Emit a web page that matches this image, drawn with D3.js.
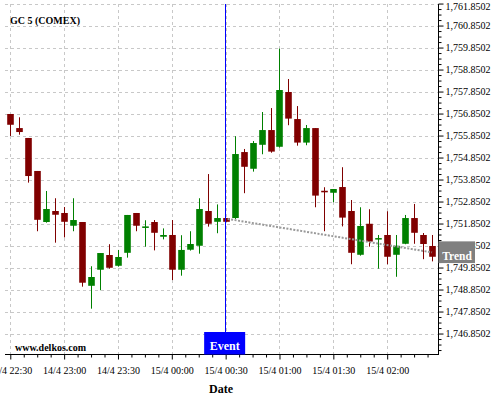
<!DOCTYPE html>
<html><head><meta charset="utf-8">
<script src="https://cdn.jsdelivr.net/npm/d3@7/dist/d3.min.js"></script>
<style>
body{margin:0;background:#fff}
svg{display:block}
text{font-family:"Liberation Serif","Times New Roman",serif}
</style>
</head><body><svg id="c" width="500" height="400"></svg>
<script>
const times = [
"2025-04-14 22:30","2025-04-14 22:35","2025-04-14 22:40","2025-04-14 22:45","2025-04-14 22:50","2025-04-14 22:55",
"2025-04-14 23:00","2025-04-14 23:05","2025-04-14 23:10","2025-04-14 23:15","2025-04-14 23:20","2025-04-14 23:25",
"2025-04-14 23:30","2025-04-14 23:35","2025-04-14 23:40","2025-04-14 23:45","2025-04-14 23:50","2025-04-14 23:55",
"2025-04-15 00:00","2025-04-15 00:05","2025-04-15 00:10","2025-04-15 00:15","2025-04-15 00:20","2025-04-15 00:25",
"2025-04-15 00:30","2025-04-15 00:35","2025-04-15 00:40","2025-04-15 00:45","2025-04-15 00:50","2025-04-15 00:55",
"2025-04-15 01:00","2025-04-15 01:05","2025-04-15 01:10","2025-04-15 01:15","2025-04-15 01:20","2025-04-15 01:25",
"2025-04-15 01:30","2025-04-15 01:35","2025-04-15 01:40","2025-04-15 01:45","2025-04-15 01:50","2025-04-15 01:55",
"2025-04-15 02:00","2025-04-15 02:05","2025-04-15 02:10","2025-04-15 02:15","2025-04-15 02:20","2025-04-15 02:25"];
const open = [1756.83,1756.19,1755.74,1754.24,1751.92,1752.42,1752.33,1751.75,1751.92,1749.02,1749.75,1750.42,
1749.93,1750.52,1752.33,1751.65,1751.92,1751.25,1751.33,1749.75,1750.66,1750.84,1752.42,1751.93,
1752.10,1752.10,1755.10,1754.34,1755.43,1756.10,1755.34,1757.83,1756.60,1755.53,1756.19,1753.34,
1753.25,1753.51,1752.42,1750.43,1751.84,1751.15,1751.33,1750.43,1750.93,1752.10,1751.33,1750.83];
const high = [1756.83,1756.68,1755.74,1754.24,1753.33,1753.00,1752.60,1753.00,1751.92,1749.91,1750.51,1750.91,
1750.65,1752.24,1752.33,1752.00,1752.01,1751.63,1752.01,1751.32,1751.50,1753.00,1754.10,1752.72,
1752.10,1755.82,1755.24,1755.60,1756.92,1757.10,1759.80,1758.42,1757.19,1756.33,1756.19,1753.50,
1753.42,1754.41,1752.92,1752.59,1752.50,1751.33,1752.41,1751.33,1752.24,1752.74,1751.42,1751.33];
const low = [1755.83,1755.89,1753.71,1751.50,1751.89,1750.98,1751.22,1751.50,1748.98,1747.98,1748.82,1749.80,
1749.89,1750.30,1751.50,1750.80,1750.63,1751.13,1749.28,1749.48,1750.62,1750.48,1751.71,1751.41,
1751.93,1752.06,1753.23,1754.21,1755.00,1755.07,1755.30,1756.32,1755.39,1755.41,1752.59,1751.50,
1752.82,1751.72,1750.00,1750.39,1750.80,1749.80,1750.00,1749.43,1750.91,1750.93,1750.23,1750.13];
const close = [1756.34,1756.01,1754.01,1752.02,1752.51,1752.25,1751.93,1752.01,1749.16,1749.42,1750.51,1749.84,
1750.33,1752.24,1751.75,1751.72,1751.43,1751.33,1749.75,1750.65,1750.92,1752.51,1751.84,1752.10,
1751.93,1755.01,1754.43,1755.51,1756.10,1755.12,1757.92,1756.62,1755.53,1756.19,1753.12,1753.27,
1753.42,1752.12,1750.52,1751.74,1751.03,1751.19,1750.34,1750.84,1752.10,1751.43,1750.92,1750.34];

const yTicks = [1746.8502,1747.8502,1748.8502,1749.8502,1750.8502,1751.8502,1752.8502,1753.8502,
1754.8502,1755.8502,1756.8502,1757.8502,1758.8502,1759.8502,1760.8502,1761.8502];
const xTicks = ["2025-04-14 22:30","2025-04-14 23:00","2025-04-14 23:30","2025-04-15 00:00",
"2025-04-15 00:30","2025-04-15 01:00","2025-04-15 01:30","2025-04-15 02:00"];
const titleText = "GC 5 (COMEX)";
const sourceText = "www.delkos.com";
const xTitle = "Date";
const eventTime = "2025-04-15 00:30";
const eventLabel = "Event";
const trendTimes = ["2025-04-15 00:30","2025-04-15 02:25"];
const trendValues = [1752.06, 1750.54];
const trendLabel = "Trend";

const parse = d3.timeParse("%Y-%m-%d %H:%M");
const parseS = d3.timeParse("%Y-%m-%d %H:%M:%S");
const svg = d3.select("#c");
const W = 438.5, TOP = 4, BOT = 354.5;

const x = d3.scaleTime()
  .domain([parseS("2025-04-14 22:24:16"), parseS("2025-04-15 02:28:36")])
  .range([0, W]);
const y = d3.scaleLinear().domain([1745.92, 1761.83]).range([354, 4]);

const data = times.map((t,i)=>({t:parse(t),o:open[i],h:high[i],l:low[i],c:close[i]}));
const xt = xTicks.map(parse);

// grid
const grid = svg.append("g").attr("stroke","#c8c8c8").attr("stroke-dasharray","3,3").attr("stroke-width",1);
grid.selectAll(".hg").data(yTicks).enter().append("line")
  .attr("x1",5).attr("x2",W).attr("y1",d=>Math.round(y(d))+0.5).attr("y2",d=>Math.round(y(d))+0.5);
grid.selectAll(".vg").data(xt).enter().append("line")
  .attr("x1",d=>Math.round(x(d))+0.5).attr("x2",d=>Math.round(x(d))+0.5).attr("y1",TOP).attr("y2",BOT);

// candles
const red = "#800000", green = "#008000";
const cg = svg.append("g");
const cs = cg.selectAll("g").data(data).enter().append("g");
cs.append("line")
  .attr("x1",d=>Math.round(x(d.t))+0.5).attr("x2",d=>Math.round(x(d.t))+0.5)
  .attr("y1",d=>y(d.h)).attr("y2",d=>y(d.l))
  .attr("stroke",d=>d.c>=d.o?green:red).attr("stroke-width",1);
cs.append("rect")
  .attr("x",d=>Math.round(x(d.t))+0.5-3.3).attr("width",6.6)
  .attr("y",d=>y(Math.max(d.o,d.c)))
  .attr("height",d=>Math.max(1.5, Math.abs(y(d.o)-y(d.c))))
  .attr("fill",d=>d.c>=d.o?green:red);

// trend line
svg.append("line")
  .attr("x1",x(parse(trendTimes[0]))+2).attr("y1",y(trendValues[0]))
  .attr("x2",x(parse(trendTimes[1]))).attr("y2",y(trendValues[1]))
  .attr("stroke","#999").attr("stroke-width",2).attr("stroke-dasharray","2,1.5");

// event line
const ex = Math.round(x(parse(eventTime)))-0.5;
svg.append("line").attr("x1",ex).attr("x2",ex).attr("y1",TOP).attr("y2",332)
  .attr("stroke","#0000ff").attr("stroke-width",1);

// axes
const yAxis = d3.axisRight(y).tickValues(yTicks).tickFormat(d3.format(",.4f")).tickSize(5).tickPadding(2);
const ya = svg.append("g").attr("transform",`translate(${W},0)`).call(yAxis);
ya.select(".domain").remove();
ya.selectAll("text").attr("font-size",10).attr("fill","#000").attr("font-family","Liberation Serif")
  .attr("dy",d=>y(d)<8 ? "0.55em" : "0.32em");
const minorY = d3.range(1745.85+0.25, 1761.9, 0.25).filter(v=>Math.abs((v-1746.8502)%1)>0.01 && Math.abs(((v-1746.8502)%1)-1)>0.01 && y(v)>=TOP && y(v)<=354);
const ym = svg.append("g").attr("transform",`translate(${W},0)`)
  .call(d3.axisRight(y).tickValues(minorY.map(v=>v+0.0002)).tickFormat("").tickSize(3));
ym.select(".domain").remove();

const xAxis = d3.axisBottom(x).tickValues(xt).tickFormat(d3.timeFormat("%-d/%-m %H:%M")).tickSize(5).tickPadding(7);
const xa = svg.append("g").attr("transform",`translate(0,${BOT})`).call(xAxis);
xa.select(".domain").remove();
xa.selectAll("text").attr("font-size",10).attr("fill","#000").attr("font-family","Liberation Serif");
const minorX = d3.timeMinute.every(30).range(parse("2025-04-14 22:00"), parse("2025-04-15 03:00"))
  .flatMap(d=>[1,2,3].map(k=>new Date(+d + k*7.5*60000))).filter(d=>x(d)>=3 && x(d)<=W);
const xm = svg.append("g").attr("transform",`translate(0,${BOT})`)
  .call(d3.axisBottom(x).tickValues(minorX).tickFormat("").tickSize(3));
xm.select(".domain").remove();

svg.append("line").attr("x1",5).attr("x2",W+0.5).attr("y1",BOT).attr("y2",BOT).attr("stroke","#000");
svg.append("line").attr("x1",W).attr("x2",W).attr("y1",TOP).attr("y2",BOT).attr("stroke","#000");

// event box
const exc = x(parse(eventTime));
svg.append("rect").attr("x",exc-21.5).attr("y",332).attr("width",41).attr("height",BOT-332).attr("fill","#0000ff");
svg.append("text").attr("x",exc-1).attr("y",350).attr("text-anchor","middle")
  .attr("font-size",12).attr("font-weight","bold").attr("fill","#fff").text(eventLabel);

// trend box
const ty = y(trendValues[1]);
svg.append("rect").attr("x",W).attr("y",ty-11).attr("width",36.5).attr("height",21.7).attr("fill","#808080");
svg.append("text").attr("x",W+18.5).attr("y",ty+7.5).attr("text-anchor","middle")
  .attr("font-size",11.5).attr("font-weight","bold").attr("fill","#fff").text(trendLabel);

// titles
svg.append("text").attr("x",10).attr("y",23.5).attr("font-size",10).attr("font-weight","bold").attr("fill","#000").text(titleText);
svg.append("text").attr("x",15).attr("y",351.3).attr("font-size",10).attr("font-weight","bold").attr("fill","#000").text(sourceText);
svg.append("text").attr("x",221).attr("y",393.3).attr("text-anchor","middle").attr("font-size",12).attr("font-weight","bold").attr("fill","#000").text(xTitle);
</script></body></html>
